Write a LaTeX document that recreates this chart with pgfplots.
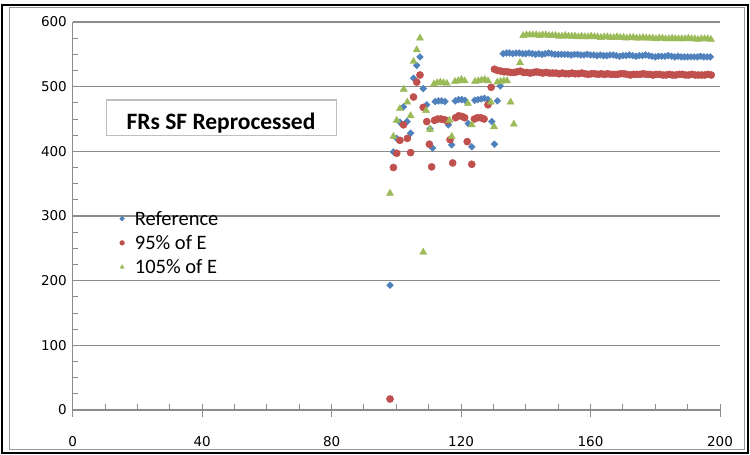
\documentclass[border=0pt]{standalone}
\usepackage{fontspec}
\setmainfont{Carlito}
\newfontfamily\dejavu{DejaVu Sans}
\usepackage{pgfplots}
\pgfplotsset{compat=1.18}
\definecolor{cblue}{HTML}{4F81BD}
\definecolor{cred}{HTML}{C0504D}
\definecolor{cgreen}{HTML}{9BBB59}
\definecolor{axgray}{HTML}{8C8C8C}
\definecolor{boxgray}{HTML}{BFBFBF}
\begin{document}
\begin{tikzpicture}
\useasboundingbox (0bp,0bp) rectangle (750bp,455bp);
\fill[white] (0bp,0bp) rectangle (750bp,455bp);
\draw[black, line width=2bp] (2.3bp,2bp) rectangle (748bp,450bp);
\draw[boxgray!80!black, line width=1bp] (9bp,5.5bp) rectangle (744.5bp,447bp);
\begin{axis}[
  at={(72.7bp,45bp)}, anchor=south west,
  scale only axis, width=647.3bp, height=388bp,
  xmin=0, xmax=200, ymin=0, ymax=600,
  xtick={0,40,...,200}, ytick={0,100,...,600},
  minor x tick num=3, minor y tick num=3,
  axis x line*=bottom, axis y line*=left,
  axis line style={draw=axgray, line width=1.2bp, -},
  ymajorgrids, major grid style={draw=axgray, line width=1.2bp},
  tick style={draw=axgray, line width=1bp},
  tick align=inside,
  major tick length=13bp, minor tick length=5.5bp,
  major x tick style={yshift=-7bp},
  /pgf/number format/assume math mode=true,
  xticklabel style={font=\dejavu\fontsize{13.5bp}{16bp}\selectfont, anchor=base, yshift=-36.5bp, inner sep=0pt},
  yticklabel style={font=\dejavu\fontsize{13.5bp}{16bp}\selectfont, anchor=east, xshift=-5.7bp, inner sep=0pt},
  legend style={at={(rel axis cs:0.0717,0.5155)}, anchor=north west, draw=none, fill=none,
    inner sep=0pt, row sep=7.2bp,
    font=\fontsize{20.5bp}{24bp}\selectfont,
    nodes={inner sep=0pt, text height=15bp, text depth=2bp}},
  legend cell align=left,
  legend image code/.code={\draw[#1, mark size=2.4bp] plot coordinates {(0bp,0bp)}; \path (-2.6bp,0bp) (12.6bp,0bp);},
]
% Reference
\addplot[only marks, mark=diamond*, mark size=3.4bp, mark options={xscale=1.33, draw=cblue, fill=cblue}, color=cblue] table {
x y
98.05 193
99.1 399
100.1 420
101.1 445
102.2 469
103.3 446
104.4 428
105.3 513
106.3 533
107.3 546
108.3 497
109.4 472
110.4 435
111.2 405
112.0 477
113.0 478
114.0 478
115.0 477
116.1 441
117.1 410
118.2 478
119.2 480
120.2 480
121.2 479
122.2 443
123.3 407
124.2 479
125.2 480
126.2 481
127.2 482
128.3 480
129.5 446
130.3 411
131.2 478
132.1 501
133 551
134 552
135 552
136 551
137 552
138 552
139 551
140 551
141 552
142 551
143 550
144 551
145 550
146 551
147 552
148 551
149 550
150 550
151 550
152 550
153 550
154 549
155 550
156 550
157 549
158 549
159 550
160 549
161 549
162 548
163 549
164 548
165 548
166 549
167 549
168 548
169 547
170 548
171 548
172 549
173 548
174 547
175 548
176 548
177 549
178 548
179 547
180 546
181 547
182 547
183 547
184 548
185 547
186 546
187 547
188 546
189 546
190 546
191 546
192 546
193 546
194 547
195 546
196 546
197 546
};
\addlegendentry{Reference}
% 95% of E
\addplot[only marks, mark=*, mark size=3.6bp, mark options={draw=cred, fill=cred}, color=cred] table {
x y
98.05 17
99.1 375
100.1 397
101.1 417
102.2 441
103.4 420
104.4 398
105.3 484
106.3 507
107.3 518
108.3 468
109.4 446
110.2 411
110.9 376
111.8 448
112.8 450
113.8 450
114.8 449
115.8 447
116.6 418
117.4 382
118.3 452
119.3 455
120.3 454
121.1 452
121.9 415
123.3 380
124.1 450
125.1 452
126.1 452
127.1 450
128.3 472
129.3 499
130.3 527
131.3 525
132.3 524
133.3 523
134.3 523
135.3 522
136.3 522
137.3 523
138.3 524
139.3 522
140.3 522
141.3 521
142.3 522
143.3 523
144.3 522
145.3 521
146.3 522
147.3 521
148.3 521
149.3 521
150.3 520
151.3 521
152.3 520
153.3 520
154.3 521
155.3 520
156.3 520
157.3 521
158.3 520
159.3 519
160.3 520
161.3 520
162.3 519
163.3 520
164.3 519
165.3 520
166.3 519
167.3 519
168.3 519
169.3 520
170.3 520
171.3 519
172.3 518
173.3 519
174.3 519
175.3 519
176.3 520
177.3 519
178.3 519
179.3 518
180.3 519
181.3 519
182.3 518
183.3 518
184.3 519
185.3 518
186.3 518
187.3 519
188.3 519
189.3 518
190.3 518
191.3 519
192.3 518
193.3 518
194.3 518
195.3 518
196.3 519
197.3 518
};
\addlegendentry{95\% of E}
% 105% of E
\addplot[only marks, mark=triangle*, mark size=4.1bp, mark options={draw=cgreen, fill=cgreen}, color=cgreen] table {
x y
98.05 335
99.1 423
100.1 448
101.1 466
102.3 496
103.4 476
104.4 455
105.3 539
106.3 557
107.3 575
108.3 244
109.2 463
110.4 434
111.6 504
112.6 506
113.6 507
114.6 506
115.6 505
116.4 448
117.1 423
118.1 508
119.1 509
120.1 511
121.1 509
122.1 474
123.3 441
124.3 508
125.3 509
126.3 510
127.3 511
128.3 509
129.2 476
130.2 438
131.2 507
132.2 508
133.2 509
134.2 509
135.3 476
136.3 442
138.2 537
139.2 579
140.2 580
141.2 580
142.2 580
143.2 580
144.2 579
145.2 580
146.2 580
147.2 579
148.2 579
149.2 579
150.2 578
151.2 578
152.2 579
153.2 578
154.2 578
155.2 578
156.2 577
157.2 578
158.2 577
159.2 577
160.2 578
161.2 577
162.2 577
163.2 576
164.2 577
165.2 577
166.2 576
167.2 576
168.2 577
169.2 576
170.2 576
171.2 575
172.2 576
173.2 576
174.2 575
175.2 575
176.2 576
177.2 575
178.2 575
179.2 575
180.2 574
181.2 575
182.2 575
183.2 574
184.2 574
185.2 575
186.2 574
187.2 574
188.2 574
189.2 574
190.2 575
191.2 574
192.2 574
193.2 573
194.2 574
195.2 574
196.2 574
197.2 573
};
\addlegendentry{105\% of E}
\end{axis}
\draw[boxgray, line width=1.2bp, fill=white] (106.7bp,319.3bp) rectangle (336.7bp,355bp);
\node[anchor=base, inner sep=0pt, font=\bfseries\fontsize{23.5bp}{28bp}\selectfont] at (221bp,325bp) {FRs SF Reprocessed};
\end{tikzpicture}
\end{document}
